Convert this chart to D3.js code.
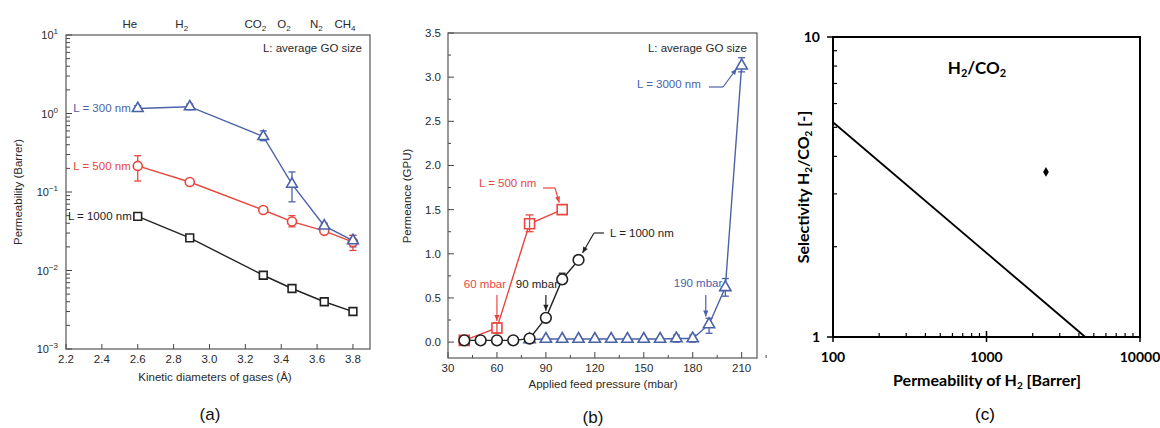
<!DOCTYPE html>
<html><head><meta charset="utf-8">
<script src="https://cdn.jsdelivr.net/npm/d3@7"></script>
<style>body{margin:0;background:#fff}svg{display:block}</style>
</head><body>
<svg id="c" width="1160" height="428"></svg>
<script>
// ---------- DATA ----------
// Panel (a)
const gasNames = [["He"],["H","2"],["CO","2"],["O","2"],["N","2"],["CH","4"]];
const kineticDiam = [2.6, 2.89, 3.3, 3.46, 3.64, 3.8];
const perm300 = [1.16, 1.22, 0.51, 0.126, 0.037, 0.024];
const perm300Lo = [1.07, 1.12, 0.45, 0.075, 0.034, 0.020];
const perm300Hi = [1.26, 1.32, 0.60, 0.180, 0.040, 0.028];
const perm500 = [0.215, 0.134, 0.059, 0.042, 0.032, 0.023];
const perm500Lo = [0.138, null, null, 0.036, null, 0.018];
const perm500Hi = [0.290, null, null, 0.050, null, 0.028];
const perm1000 = [0.049, 0.026, 0.0087, 0.0059, 0.0040, 0.0030];
const xTicksA = [2.2, 2.4, 2.6, 2.8, 3.0, 3.2, 3.4, 3.6, 3.8];
const yDecadesA = [-3, -2, -1, 0, 1];

// Panel (b)
const press500 = [40, 60, 80, 100];
const permB500 = [0.02, 0.16, 1.34, 1.50];
const permB500Lo = [null, 0.10, 1.25, null];
const permB500Hi = [null, 0.22, 1.44, null];
const press1000 = [40, 50, 60, 70, 80, 90, 100, 110];
const permB1000 = [0.02, 0.02, 0.02, 0.02, 0.04, 0.275, 0.71, 0.93];
const permB1000Lo = [null, null, null, null, null, null, 0.66, null];
const permB1000Hi = [null, null, null, null, null, null, 0.78, null];
const press3000 = [80, 90, 100, 110, 120, 130, 140, 150, 160, 170, 180, 190, 200, 210];
const permB3000 = [0.03, 0.035, 0.035, 0.035, 0.035, 0.035, 0.035, 0.035, 0.035, 0.04, 0.04, 0.20, 0.62, 3.13];
const permB3000Lo = [null, null, null, null, null, null, null, null, null, 0.0, 0.0, 0.10, 0.52, 3.06];
const permB3000Hi = [null, null, null, null, null, null, null, null, null, 0.08, 0.08, 0.27, 0.72, 3.22];
const xTicksB = [30, 60, 90, 120, 150, 180, 210];
const yTicksB = [0, 0.5, 1.0, 1.5, 2.0, 2.5, 3.0, 3.5];

// Panel (c)
const boundPerm = [100, 4400];
const boundSel = [5.2, 1.0];
const pointPerm = [2440];
const pointSel = [3.55];
const xTicksC = [100, 1000, 10000];
const yTicksC = [1, 10];

// ---------- COLOURS ----------
const BLUE = "#4a62a8", RED = "#e8463f", BLK = "#222", AX = "#444", TXT = "#2a2a2a";
const FONT = "Liberation Sans, Arial, sans-serif";

const svg = d3.select("#c");
svg.append("rect").attr("width",1160).attr("height",428).attr("fill","#fff");

function rich(sel, parts, small){
  parts.forEach((p,i)=>{
    if (typeof p === "string") p = [p, null];
    const [t, k] = p;
    const ts = sel.append("tspan").text(t);
    if (k === "sub") ts.attr("dy", 3).attr("font-size", small);
    else if (k === "sup") ts.attr("dy", -5).attr("font-size", small);
    const prev = i>0 ? (typeof parts[i-1]==="string"?null:parts[i-1][1]) : null;
    if (!k && prev === "sub") ts.attr("dy", -3);
    if (!k && prev === "sup") ts.attr("dy", 5);
  });
  return sel;
}

function errBars(g, xs, lo, hi, xS, yS, color, cap){
  xs.forEach((xv,i)=>{
    if (lo[i]==null) return;
    const X = xS(xv), Y1 = yS(lo[i]), Y2 = yS(hi[i]);
    g.append("line").attr("x1",X).attr("x2",X).attr("y1",Y1).attr("y2",Y2).attr("stroke",color).attr("stroke-width",1.3);
    [Y1,Y2].forEach(Y=>g.append("line").attr("x1",X-cap).attr("x2",X+cap).attr("y1",Y).attr("y2",Y).attr("stroke",color).attr("stroke-width",1.3));
  });
}

function series(g, xs, ys, xS, yS, color, shape, sz){
  const pts = xs.map((x,i)=>[xS(x), yS(ys[i])]);
  g.append("path").attr("d", d3.line()(pts)).attr("fill","none").attr("stroke",color).attr("stroke-width",1.4);
  const sym = shape==="circle"?d3.symbolCircle:shape==="square"?d3.symbolSquare:d3.symbolTriangle;
  g.selectAll(null).data(pts).join("path")
    .attr("transform", d=>`translate(${d[0]},${d[1]})`)
    .attr("d", d3.symbol(sym, sz)())
    .attr("fill","#fff").attr("stroke",color).attr("stroke-width",1.6);
}

// ================= PANEL (a) =================
{
  const g = svg.append("g").attr("font-family", FONT);
  const x = d3.scaleLinear([2.2, 3.895],[66, 370]);
  const y = d3.scaleLog([1e-3, 1e1],[349, 35]);
  yDecadesA.forEach(e=>{
    const v = Math.pow(10,e);
    g.append("line").attr("x1",66).attr("x2",72).attr("y1",y(v)).attr("y2",y(v)).attr("stroke",AX);
    rich(g.append("text").attr("x",58).attr("y",y(v)+4).attr("text-anchor","end").attr("font-size",11).attr("fill",TXT),
      ["10",[e===0?"0":(e===1?"1":"\u2212"+(-e)),"sup"]], 8);
    if (e<1) for (let m=2;m<=9;m++){
      const vv = m*v;
      g.append("line").attr("x1",66).attr("x2",70).attr("y1",y(vv)).attr("y2",y(vv)).attr("stroke",AX);
    }
  });
  xTicksA.forEach(t=>{
    g.append("line").attr("x1",x(t)).attr("x2",x(t)).attr("y1",349).attr("y2",344).attr("stroke",AX);
    g.append("text").attr("x",x(t)).attr("y",363).attr("text-anchor","middle").attr("font-size",11.5).attr("fill",TXT).text(t.toFixed(1));
  });
  g.append("rect").attr("x",66).attr("y",35).attr("width",304).attr("height",314).attr("fill","none").attr("stroke","#555").attr("stroke-width",1.2);
  gasNames.forEach((n,i)=>{
    rich(g.append("text").attr("x",x(kineticDiam[i])-8).attr("y",28).attr("text-anchor","middle").attr("font-size",11.5).attr("fill",TXT),
      n.length>1?[n[0],[n[1],"sub"]]:[n[0]], 8);
  });
  errBars(g, kineticDiam, perm300Lo, perm300Hi, x, y, BLUE, 3.5);
  errBars(g, kineticDiam, perm500Lo, perm500Hi, x, y, RED, 3.5);
  series(g, kineticDiam, perm1000, x, y, BLK, "square", 60);
  series(g, kineticDiam, perm500, x, y, RED, "circle", 64);
  series(g, kineticDiam, perm300, x, y, BLUE, "triangle", 50);
  g.append("text").attr("x",362).attr("y",52).attr("text-anchor","end").attr("font-size",11.5).attr("fill",TXT).text("L: average GO size");
  g.append("text").attr("x",x(2.6)-7).attr("y",y(perm300[0])+4).attr("text-anchor","end").attr("font-size",11.5).attr("fill",BLUE).text("L = 300 nm");
  g.append("text").attr("x",x(2.6)-7).attr("y",y(perm500[0])+4).attr("text-anchor","end").attr("font-size",11.5).attr("fill",RED).text("L = 500 nm");
  g.append("text").attr("x",x(2.6)-6).attr("y",y(perm1000[0])+4).attr("text-anchor","end").attr("font-size",11.5).attr("fill",BLK).text("L = 1000 nm");
  g.append("text").attr("x",215).attr("y",381).attr("text-anchor","middle").attr("font-size",11.5).attr("fill",TXT).text("Kinetic diameters of gases (Å)");
  g.append("text").attr("transform","translate(22,192) rotate(-90)").attr("text-anchor","middle").attr("font-size",11.5).attr("fill",TXT).text("Permeability (Barrer)");
  g.append("text").attr("x",210).attr("y",420).attr("text-anchor","middle").attr("font-size",17).attr("fill","#111").text("(a)");
}

// ================= PANEL (b) =================
{
  const g = svg.append("g").attr("font-family", FONT);
  const x = d3.scaleLinear([30, 219.4],[448, 757]);
  const y = d3.scaleLinear([-0.18, 3.5],[358, 33]);
  yTicksB.forEach(t=>{
    g.append("line").attr("x1",448).attr("x2",454).attr("y1",y(t)).attr("y2",y(t)).attr("stroke",AX);
    if (t<3.5) g.append("line").attr("x1",448).attr("x2",451).attr("y1",y(t+0.25)).attr("y2",y(t+0.25)).attr("stroke",AX);
    g.append("text").attr("x",441).attr("y",y(t)+4).attr("text-anchor","end").attr("font-size",11.5).attr("fill",TXT).text(t.toFixed(1));
  });
  xTicksB.forEach(t=>{
    g.append("line").attr("x1",x(t)).attr("x2",x(t)).attr("y1",358).attr("y2",352).attr("stroke",AX);
    g.append("line").attr("x1",x(t+15)).attr("x2",x(t+15)).attr("y1",358).attr("y2",355).attr("stroke",AX);
    g.append("text").attr("x",x(t)).attr("y",372).attr("text-anchor","middle").attr("font-size",11.5).attr("fill",TXT).text(t);
  });
  g.append("rect").attr("x",448).attr("y",33).attr("width",309).attr("height",325).attr("fill","none").attr("stroke","#555").attr("stroke-width",1.2);

  errBars(g, press3000, permB3000Lo, permB3000Hi, x, y, BLUE, 3.5);
  series(g, press3000, permB3000, x, y, BLUE, "triangle", 55);
  series(g, press500, permB500, x, y, RED, "square", 100);
  errBars(g, press500, permB500Lo, permB500Hi, x, y, RED, 4);
  errBars(g, press1000, permB1000Lo, permB1000Hi, x, y, BLK, 3.5);
  series(g, press1000, permB1000, x, y, BLK, "circle", 90);

  const arrow = (x1,y1,x2,y2,c)=>{
    g.append("line").attr("x1",x1).attr("y1",y1).attr("x2",x2).attr("y2",y2).attr("stroke",c).attr("stroke-width",1.2);
    const a = Math.atan2(y2-y1,x2-x1), L=6, W=2.6;
    const p = [[x2,y2],[x2-L*Math.cos(a)+W*Math.sin(a), y2-L*Math.sin(a)-W*Math.cos(a)],[x2-L*Math.cos(a)-W*Math.sin(a), y2-L*Math.sin(a)+W*Math.cos(a)]];
    g.append("path").attr("d","M"+p.join("L")+"Z").attr("fill",c);
  };
  g.append("text").attr("x",747).attr("y",52).attr("text-anchor","end").attr("font-size",11.5).attr("fill",TXT).text("L: average GO size");
  g.append("text").attr("x",637).attr("y",88).attr("font-size",11.5).attr("fill",BLUE).text("L = 3000 nm");
  g.append("line").attr("x1",709).attr("y1",87).attr("x2",723).attr("y2",87).attr("stroke",BLUE).attr("stroke-width",1.2);
  arrow(723,87, x(210)-5, y(3.13)+3, BLUE);
  g.append("text").attr("x",479).attr("y",187).attr("font-size",11.5).attr("fill",RED).text("L = 500 nm");
  g.append("line").attr("x1",543).attr("y1",188).attr("x2",555).attr("y2",188).attr("stroke",RED).attr("stroke-width",1.2);
  arrow(555,188, x(100)-3, y(1.5)-7, RED);
  g.append("text").attr("x",610).attr("y",237).attr("font-size",11.5).attr("fill",BLK).text("L = 1000 nm");
  g.append("line").attr("x1",604).attr("y1",233).attr("x2",594).attr("y2",233).attr("stroke",BLK).attr("stroke-width",1.2);
  arrow(594,233, x(110)+4, y(0.93)-7, BLK);
  g.append("text").attr("x",x(60)-12).attr("y",288).attr("text-anchor","middle").attr("font-size",11.5).attr("fill",RED).text("60 mbar");
  arrow(x(60),295, x(60),y(0.16)-7, RED);
  g.append("text").attr("x",x(90)-9).attr("y",288).attr("text-anchor","middle").attr("font-size",11.5).attr("fill",BLK).text("90 mbar");
  arrow(x(90),295, x(90),y(0.275)-7, BLK);
  g.append("text").attr("x",x(190)-11).attr("y",287).attr("text-anchor","middle").attr("font-size",11.5).attr("fill",BLUE).text("190 mbar");
  arrow(x(188),295, x(188),y(0.2)-8, BLUE);

  g.append("text").attr("x",603).attr("y",388).attr("text-anchor","middle").attr("font-size",11.5).attr("fill",TXT).text("Applied feed pressure (mbar)");
  g.append("text").attr("transform","translate(411,196) rotate(-90)").attr("text-anchor","middle").attr("font-size",11.5).attr("fill",TXT).text("Permeance (GPU)");
  g.append("text").attr("x",593).attr("y",423).attr("text-anchor","middle").attr("font-size",17).attr("fill","#111").text("(b)");
}

// ================= PANEL (c) =================
{
  const F2 = "Lato, 'Open Sans', sans-serif";
  const g = svg.append("g").attr("font-family", F2);
  const x = d3.scaleLog([100, 10000],[833, 1140]);
  const y = d3.scaleLog([1, 10],[337, 37]);
  g.append("rect").attr("x",833).attr("y",37).attr("width",307).attr("height",300).attr("fill","none").attr("stroke","#000").attr("stroke-width",2);
  xTicksC.forEach((t,i)=>{
    g.append("line").attr("x1",x(t)).attr("x2",x(t)).attr("y1",331).attr("y2",342).attr("stroke","#000").attr("stroke-width",1.5);
    g.append("text").attr("x",x(t)).attr("y",362).attr("text-anchor","middle").attr("font-size",14).attr("font-weight","bold").text(t);
    if (i<2) for (let m=2;m<=9;m++) g.append("line").attr("x1",x(m*t)).attr("x2",x(m*t)).attr("y1",337).attr("y2",333).attr("stroke","#000").attr("stroke-width",1.2);
  });
  yTicksC.forEach((t,i)=>{
    g.append("line").attr("x1",827).attr("x2",838).attr("y1",y(t)).attr("y2",y(t)).attr("stroke","#000").attr("stroke-width",1.5);
    g.append("text").attr("x",820).attr("y",y(t)+5).attr("text-anchor","end").attr("font-size",14).attr("font-weight","bold").text(t);
    if (i<1) for (let m=2;m<=9;m++) g.append("line").attr("x1",833).attr("x2",837).attr("y1",y(m*t)).attr("y2",y(m*t)).attr("stroke","#000").attr("stroke-width",1.2);
  });
  g.append("path").attr("d", d3.line()(boundPerm.map((p,i)=>[x(p), y(boundSel[i])]))).attr("stroke","#000").attr("stroke-width",1.8).attr("fill","none");
  g.selectAll(null).data(pointPerm).join("path")
    .attr("transform",(d,i)=>`translate(${x(d)},${y(pointSel[i])})`)
    .attr("d", d3.symbol(d3.symbolDiamond, 28)()).attr("fill","#000");
  rich(g.append("text").attr("x",977).attr("y",74).attr("text-anchor","middle").attr("font-size",17).attr("font-weight","bold"),
    ["H",["2","sub"],"/CO",["2","sub"]], 11);
  rich(g.append("text").attr("transform","translate(809,187) rotate(-90)").attr("text-anchor","middle").attr("font-size",16).attr("font-weight","bold"),
    ["Selectivity H",["2","sub"],"/CO",["2","sub"]," [-]"], 10);
  rich(g.append("text").attr("x",987).attr("y",386).attr("text-anchor","middle").attr("font-size",16).attr("font-weight","bold"),
    ["Permeability of H",["2","sub"]," [Barrer]"], 10);
  g.append("text").attr("x",985).attr("y",420).attr("text-anchor","middle").attr("font-size",17).attr("font-family",FONT).text("(c)");
}
</script>
</body></html>
